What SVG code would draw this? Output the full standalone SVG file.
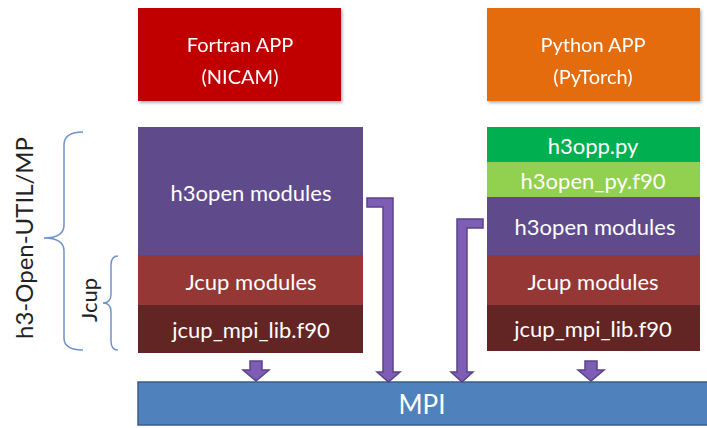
<svg xmlns="http://www.w3.org/2000/svg" width="707" height="428" viewBox="0 0 707 428">
<defs>
<filter id="sh" x="-5%" y="-5%" width="115%" height="120%"><feDropShadow dx="1.5" dy="2" stdDeviation="1.5" flood-color="#000" flood-opacity="0.3"/></filter>
</defs>
<style>
text{font-family:Lato,"Open Sans","Liberation Sans",sans-serif;fill:#fff;text-anchor:middle;dominant-baseline:central;}
.t{font-size:20px}
.u{font-size:22px}
.arr{fill:#7E5DB5;stroke:#5A4388;stroke-width:1.5;stroke-linejoin:miter}
.br{fill:none;stroke:#6F94C8;stroke-width:1.5}
.lbl{fill:#222;font-size:24px}
</style>
<rect width="707" height="428" fill="#fff"/>
<g id="fortran-app" filter="url(#sh)"><rect x="138" y="8" width="203" height="93" fill="#C00000"/>
<text class="t" x="240" y="44">Fortran APP</text><text class="t" x="240" y="76">(NICAM)</text></g>
<g id="python-app" filter="url(#sh)"><rect x="487" y="8" width="213" height="93" fill="#E46C0A"/>
<text class="t" x="593" y="44">Python APP</text><text class="t" x="593" y="76">(PyTorch)</text></g>
<g id="left-stack">
<g id="left-h3open"><rect x="138" y="127" width="225" height="128" fill="#5F4B8B"/><text class="u" x="251" y="192">h3open modules</text></g>
<g id="left-jcup"><rect x="138" y="255" width="225" height="50" fill="#953735"/><text class="u" x="251" y="281">Jcup modules</text></g>
<g id="left-jcupmpi"><rect x="138" y="305" width="225" height="48" fill="#632523"/><text class="u" x="251" y="329">jcup_mpi_lib.f90</text></g>
</g>
<g id="right-stack">
<g id="h3opp"><rect x="487" y="127" width="213" height="35" fill="#00B050"/><text class="u" x="593" y="145">h3opp.py</text></g>
<g id="h3open-py"><rect x="487" y="162" width="213" height="35" fill="#92D050"/><text class="u" x="593" y="180">h3open_py.f90</text></g>
<g id="right-h3open"><rect x="487" y="197" width="213" height="58" fill="#5F4B8B"/><text class="u" x="595" y="226">h3open modules</text></g>
<g id="right-jcup"><rect x="487" y="255" width="213" height="50" fill="#953735"/><text class="u" x="593" y="281">Jcup modules</text></g>
<g id="right-jcupmpi"><rect x="487" y="305" width="213" height="46" fill="#632523"/><text class="u" x="593" y="328">jcup_mpi_lib.f90</text></g>
</g>
<g id="mpi"><rect x="138" y="382" width="572" height="43" fill="#4F81BD" stroke="#385D8A" stroke-width="1.5"/><text x="422" y="404" style="font-size:26px">MPI</text></g>
<g id="connectors">
<path class="arr" d="M367,198 H393 V372 H400 L388.5,382 L377,372 H383 V207 H367 Z"/>
<path class="arr" d="M483,219 H457 V372 H451 L462,382 L473,372 H467 V228 H483 Z"/>
<path class="arr" d="M250,361 H262 V370 H269 L256,381 L243,370 H250 Z"/>
<path class="arr" d="M585,361 H597 V370 H604 L591,381 L578,370 H585 Z"/>
</g>
<g id="braces">
<path class="br" d="M83,132 Q64,132 64,145 V225 Q64,238 44,238 Q64,238 64,251 V338 Q64,350 83,350"/>
<path class="br" d="M118,256 Q111,256 111,265 V294 Q111,303 103,303 Q111,303 111,312 V341 Q111,350 118,350"/>
</g>
<g id="labels">
<text class="lbl" transform="translate(23,238) rotate(-90)" x="0" y="0">h3-Open-UTIL/MP</text>
<text class="lbl" transform="translate(88,300) rotate(-90)" x="0" y="0" style="font-size:22px">Jcup</text>
</g>
</svg>
